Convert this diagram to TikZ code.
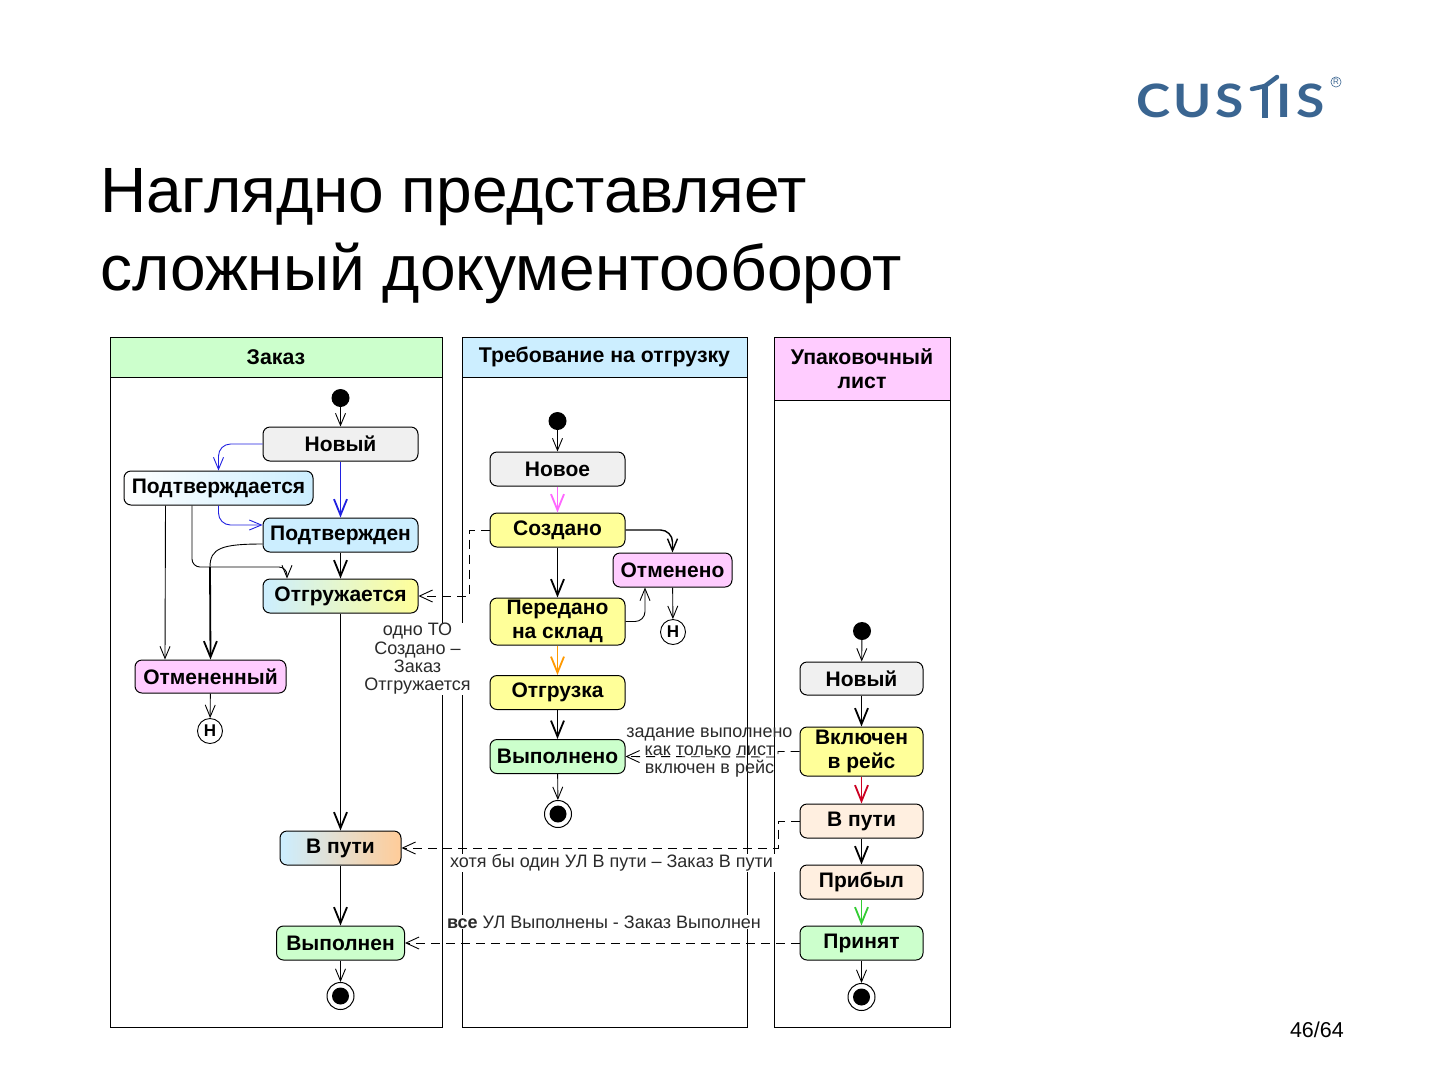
\documentclass[tikz,border=0pt]{standalone}
\usepackage{fontspec}
\setmainfont{Liberation Sans}
\newfontfamily\logofont{Lato}
\usetikzlibrary{arrows.meta}
\definecolor{laneGreen}{HTML}{CCFFCC}
\definecolor{laneBlue}{HTML}{CCEEFF}
\definecolor{lanePink}{HTML}{FFCCFF}
\definecolor{stYellow}{HTML}{FFFF99}
\definecolor{stGray}{HTML}{F0F0F0}
\definecolor{stPeach}{HTML}{FFEFE0}
\definecolor{stOrange}{HTML}{FFCC99}
\definecolor{logoBlue}{HTML}{3A6591}
\definecolor{noteGray}{HTML}{2A2A2A}
\definecolor{arrBlue}{HTML}{2020E0}
\definecolor{arrPink}{HTML}{FF66FF}
\definecolor{arrOrange}{HTML}{FF9900}
\definecolor{arrRed}{HTML}{CC0022}
\definecolor{arrGreen}{HTML}{33CC33}
\tikzset{
	state/.style={draw=black,line width=1,rounded corners=7,inner sep=0,align=center,font=\fontsize{21}{24.5}\selectfont\bfseries},
	lanehead/.style={draw=black,line width=0.9,inner sep=0,align=center,font=\fontsize{21.3}{24}\selectfont\bfseries},
	lanebody/.style={draw=black,line width=0.9,inner sep=0},
	startdot/.style={circle,fill=black,inner sep=0,minimum size=18},
	enddot/.style={circle,draw=black,fill=white,line width=1,inner sep=0,minimum size=27,path picture={\fill[black] (path picture bounding box.center) circle (8.5);}},
	histdot/.style={circle,draw=black,fill=white,line width=0.9,inner sep=0,minimum size=25,font=\fontsize{17}{17}\selectfont\bfseries},
	note/.style={inner sep=0,align=center,text=noteGray,font=\fontsize{18}{18.3}\selectfont},
	logotext/.style={inner sep=0,xscale=1.12,text=logoBlue,font=\fontsize{46}{46}\logofont\selectfont\bfseries},
	thinarr/.style={line width=0.9,-{Straight Barb[length=12,width=10]}},
	boldarr/.style={line width=1.8,-{Straight Barb[length=16,width=13]}},
	backarr/.style={line width=0.9,dash pattern=on 9 off 6,-{Straight Barb[length=13,width=12]}},
}
\begin{document}
\begin{tikzpicture}[x=1pt,y=-1pt]
	\useasboundingbox (0,0) rectangle (1440,1080);
	
	%logo and title
	\foreach \nm/\ch/\px in {logoC/C/1153.5,logoU/U/1192.5,logoS/S/1229.5,logoI/I/1284.5,logoSS/S/1310.5}{
		\node[logotext] (\nm) at (\px,101) {\ch};
	}
	\coordinate (logoFoot) at (1265,118);
	\coordinate (logoTop) at (1265,86);
	\draw[logoBlue,line width=5.5] (logoFoot)--(logoTop);
	\coordinate (logoBarA) at (1252,89);
	\coordinate (logoBarB) at (1277,77);
	\draw[logoBlue,line width=4.5,line cap=round] (logoBarA)--(1265,86)--(logoBarB);
	\node[circle,draw=logoBlue,line width=0.6,inner sep=0.8,text=logoBlue,font=\fontsize{8}{8}\selectfont] (logoReg) at (1336,82) {R};
	\node[inner sep=0,anchor=base west,font=\fontsize{64}{78}\selectfont,align=left] (titleTop) at (100,212) {Наглядно представляет};
	\node[inner sep=0,anchor=base west,font=\fontsize{64}{78}\selectfont,align=left] (titleLow) at (100,290) {сложный документооборот};
	\node[inner sep=0,anchor=base east,font=\fontsize{21.5}{21.5}\selectfont] (pageNo) at (1344,1037) {46/64};
	
	%three lanes
	\node[lanebody,minimum width=332,minimum height=690] (laneOrder) at (276,682) {};
	\node[lanebody,minimum width=285,minimum height=690] (laneReq) at (604.5,682) {};
	\node[lanebody,minimum width=176,minimum height=690] (lanePack) at (862,682) {};
	\node[lanehead,fill=laneGreen,minimum width=332,minimum height=40] (headOrder) at (276,357) {Заказ};
	\node[lanehead,fill=laneBlue,minimum width=285,minimum height=40] (headReq) at (604.5,357) {\raisebox{-1pt}{Требование на отгрузку}};
	\node[lanehead,fill=lanePink,minimum width=176,minimum height=63] (headPack) at (862,368.5) {Упаковочный\\лист};
	
	%notes that cut the lane lines
	\node[note,fill=white,inner xsep=1] (noteOne) at (417.5,659) {одно ТО\\Создано –\\Заказ\\Отгружается};
	\node[note,fill=white,inner xsep=2,inner ysep=1] (noteAny) at (611.5,863) {хотя бы один УЛ В пути – Заказ В пути};
	\node[note,fill=white,inner xsep=2,inner ysep=1] (noteAll) at (604,922) {\textbf{все} УЛ Выполнены - Заказ Выполнен};
	
	%order
	\node[startdot] (oStart) at (340.5,398) {};
	\node[state,fill=stGray,minimum width=155,minimum height=34] (oNew) at (340.5,444) {Новый};
	\node[state,left color=white,right color=laneBlue,minimum width=189,minimum height=34] (oChecking) at (218.5,488) {Подтверждается};
	\node[state,fill=laneBlue,minimum width=155,minimum height=34] (oChecked) at (340.5,535) {Подтвержден};
	\node[state,left color=laneBlue,right color=stYellow,minimum width=155,minimum height=34] (oShipping) at (340.5,596) {Отгружается};
	\node[state,fill=lanePink,minimum width=151,minimum height=33] (oCancelled) at (210.5,676.5) {Отмененный};
	\node[histdot] (oHist) at (210,731) {Н};
	\node[state,left color=laneBlue,right color=stOrange,minimum width=121,minimum height=34] (oWay) at (340.5,848) {В пути};
	\node[state,fill=laneGreen,minimum width=128,minimum height=34] (oDone) at (340.5,943) {Выполнен};
	\node[enddot] (oEnd) at (340.5,996) {};
	
	%requirement
	\node[startdot] (rStart) at (557.5,421) {};
	\node[state,fill=stGray,minimum width=135,minimum height=34] (rNew) at (557.5,469) {Новое};
	\node[state,fill=stYellow,minimum width=135,minimum height=34] (rMade) at (557.5,530) {Создано};
	\node[state,fill=stYellow,minimum width=135,minimum height=47] (rStore) at (557.5,621.5) {Передано\\на склад};
	\node[state,fill=stYellow,minimum width=135,minimum height=34] (rShip) at (557.5,692.5) {Отгрузка};
	\node[state,fill=laneGreen,minimum width=135,minimum height=34] (rDone) at (557.5,756.5) {Выполнено};
	\node[state,fill=lanePink,minimum width=119,minimum height=34] (rCancel) at (672.5,570) {Отменено};
	\node[histdot] (rHist) at (673,632) {Н};
	\node[enddot] (rEnd) at (558,814) {};
	
	%packing list
	\node[startdot] (pStart) at (862,631) {};
	\node[state,fill=stGray,minimum width=123,minimum height=33] (pNew) at (861.5,678.5) {Новый};
	\node[state,fill=stYellow,minimum width=123,minimum height=49] (pTrip) at (861.5,751.5) {Включен\\в рейс};
	\node[state,fill=stPeach,minimum width=123,minimum height=34] (pWay) at (861.5,821) {В пути};
	\node[state,fill=stPeach,minimum width=123,minimum height=34] (pCame) at (861.5,882) {Прибыл};
	\node[state,fill=laneGreen,minimum width=123,minimum height=34] (pTaken) at (861.5,943) {Принят};
	\node[enddot] (pEnd) at (861.5,997) {};
	
	%straight arrows
	\foreach \a/\b in {oStart/oNew,oDone/oEnd,rStart/rNew,rDone/rEnd,rCancel/rHist,pStart/pNew,pTaken/pEnd,oCancelled/oHist}{
		\draw[thinarr] (\a)--(\b);
	}
	\foreach \a/\b in {oChecked/oShipping,oShipping/oWay,oWay/oDone,rMade/rStore,rShip/rDone,pNew/pTrip,pWay/pCame}{
		\draw[boldarr] (\a)--(\b);
	}
	\draw[boldarr,arrBlue] (oNew)--(oChecked);
	\draw[boldarr,arrPink] (rNew)--(rMade);
	\draw[boldarr,arrOrange] (rStore)--(rShip);
	\draw[boldarr,arrRed] (pTrip)--(pWay);
	\draw[boldarr,arrGreen] (pCame)--(pTaken);
	
	%bent arrows, order
	\draw[thinarr,arrBlue,rounded corners=12] (oNew.west)-|(oChecking.north);
	\draw[thinarr,arrBlue,rounded corners=12] (oChecking.south)|-([yshift=10]oChecked.west);
	\draw[thinarr] ([xshift=-53]oChecking.south)--([xshift=-45.5]oCancelled.north);
	\coordinate (oJoin) at (210,567);
	\draw[thinarr,rounded corners=8] ([xshift=-26.5]oChecking.south)|-(oJoin)-|([xshift=-53.5]oShipping.north);
	\draw[line width=0.9] ([yshift=-9]oChecked.west)..controls (222,544) and (210,548)..(oJoin);
	\draw[boldarr] (oJoin)--(oCancelled.north);
	
	%bent arrows, requirement
	\draw[thinarr,line width=1.4,rounded corners=12] (rMade.east)-|(rCancel.north);
	\draw[thinarr,rounded corners=10] (rStore.east)-|([xshift=-27.5]rCancel.south);
	
	%dashed links between the lanes
	\draw[backarr] (rMade.west)-|(469,596)--(oShipping.east);
	\draw[backarr] (pTrip.west)--(778,751.5)--(778,757)--(rDone.east);
	\draw[backarr] (pWay.west)-|(778,848)--(oWay.east);
	\draw[backarr] (pTaken.west)--(oDone.east);
	
	\node[note] (noteTask) at (709.5,752.5) {задание выполнено\\как только лист\\включен в рейс};
\end{tikzpicture}
\end{document}
